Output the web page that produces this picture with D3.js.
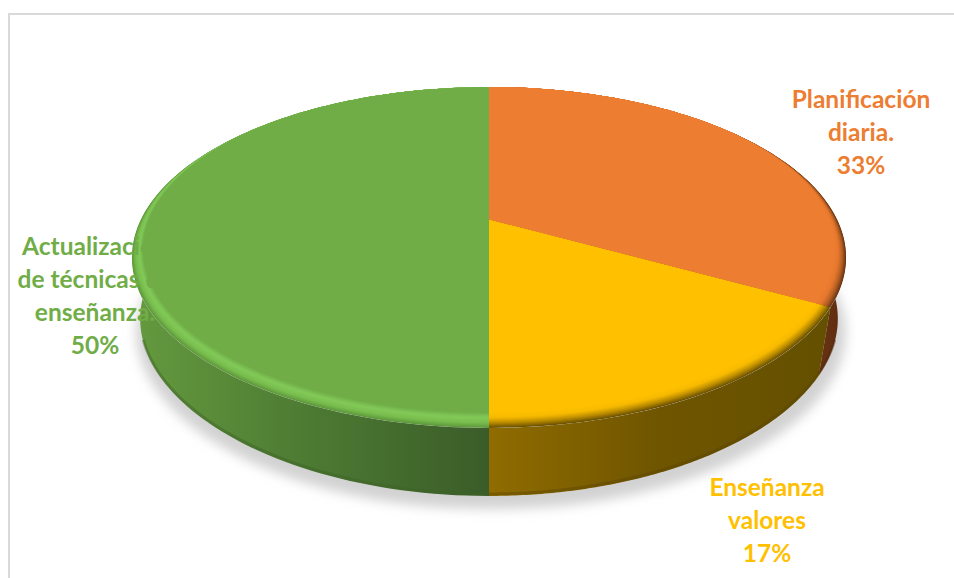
<!DOCTYPE html>
<html>
<head>
<meta charset="utf-8">
<script src="https://cdn.jsdelivr.net/npm/d3@7"></script>
<style>
html,body{margin:0;padding:0;background:#fff;}
svg{display:block;}
text{font-family:Lato,"Open Sans",sans-serif;font-weight:700;font-size:24.5px;text-anchor:middle;}
</style>
</head>
<body>
<svg id="chart" width="954" height="578"></svg>
<script>
// Share of each category, clockwise from twelve o'clock
const categories = ["Planificación diaria.", "Enseñanza valores", "Actualización de técnicas de enseñanza."];
const shares = [33, 17, 50];
const shareLabels = ["33%", "17%", "50%"];
const labelLines = [["Planificación", "diaria."], ["Enseñanza", "valores"], ["Actualización", "de técnicas de", "enseñanza."]];

const faceColors = ["#ed7d31", "#ffc000", "#70ad47"];
// Bevel colour ramps, from the flat face out to the rim
const bevelRamps = [
  ["#ed7d31", "#e5782e", "#b55f24", "#6f3815"],
  ["#ffc000", "#f7ba00", "#b98b00", "#6f5400"],
  ["#70ad47", "#82ca59", "#79bd4e", "#5f9a3c"]
];
// Side wall shading, left to right
const wallRamps = [
  ["#7a3d15", "#653112", "#5e2d10"],
  ["#906c00", "#6f5500", "#645000"],
  ["#659a3f", "#4c7a32", "#3b5c29"]
];

const cx = 489, apexY = 220, spanX = 348.3, spanY = 113.8, tilt = -0.22;
const wallDrop = 68, wallShrink = 0.985, wallTaper = 0.04, bevelWidth = 0.022, bevelLift = 1.6;

const svg = d3.select("#chart");
const defs = svg.append("defs");

// Perspective projection of the unit disc onto the page
const project = (u, v) => {
  const w = 1 + tilt * v;
  return [cx + spanX * u / w, (apexY + spanY * v) / w];
};
const rim = a => project(Math.sin(a), -Math.cos(a));
// The wall's lower edge narrows towards the viewer
const lowerRim = a => {
  const [x, y] = rim(a);
  const shrink = wallShrink - wallTaper * Math.max(0, -Math.cos(a));
  return [cx + (x - cx) * shrink, y + wallDrop];
};
const line = d3.line();
const sample = (a0, a1, f) => d3.range(0, 121).map(i => f(a0 + (a1 - a0) * i / 120));

const arcs = d3.pie().sort(null).value(d => d)(shares);

// Frame of the chart area
svg.append("path").attr("d", "M954,14 H9 V578").attr("fill", "none")
  .attr("stroke", "#d9d9d9").attr("stroke-width", 2);

// Soft shadow under the disc
const blur = defs.append("filter").attr("id", "soft")
  .attr("x", "-10%").attr("y", "-10%").attr("width", "120%").attr("height", "120%");
blur.append("feGaussianBlur").attr("stdDeviation", 6);
svg.append("path")
  .attr("d", line(sample(0, 2 * Math.PI, a => {
    const [x, y] = lowerRim(a);
    return [x + (x < cx ? -4 : 8), y + 13];
  })) + "Z")
  .attr("fill", "#d2d2d2").attr("filter", "url(#soft)");

// Side wall of each slice, shaded across its width
arcs.forEach((d, i) => {
  const pts = sample(d.startAngle, d.endAngle, rim);
  const low = sample(d.startAngle, d.endAngle, lowerRim).reverse();
  const xs = pts.map(p => p[0]).filter((x, k) => Math.cos(d.startAngle + (d.endAngle - d.startAngle) * k / 120) < 0.3);
  const grad = defs.append("linearGradient").attr("id", "wall" + i)
    .attr("gradientUnits", "userSpaceOnUse")
    .attr("x1", d3.min(xs)).attr("x2", d3.max(xs)).attr("y1", 0).attr("y2", 0);
  wallRamps[i].forEach((c, k) => grad.append("stop")
    .attr("offset", k / (wallRamps[i].length - 1)).attr("stop-color", c));
  svg.append("path").attr("d", line(pts.concat(low)) + "Z").attr("fill", `url(#wall${i})`);
});

// Darker lip along the bottom of the wall
arcs.forEach((d, i) => {
  const a0 = Math.max(d.startAngle, Math.PI * 0.6), a1 = Math.min(d.endAngle, 1.4 * Math.PI);
  if (a1 <= a0) return;
  const base = sample(a0, a1, lowerRim);
  svg.append("path").attr("d", line(base.map(p => [p[0], p[1] - 2])))
    .attr("fill", "none").attr("stroke", d3.color(wallRamps[i][1]).darker(0.6))
    .attr("stroke-width", 3).attr("opacity", 0.45);
});

// Top face: nested discs inside each slice's wedge build up the bevel
arcs.forEach((d, i) => {
  const clip = defs.append("clipPath").attr("id", "wedge" + i);
  clip.append("path").attr("d", line([project(0, 0)].concat(sample(d.startAngle, d.endAngle, rim))) + "Z");
  const g = svg.append("g").attr("clip-path", `url(#wedge${i})`);
  const ramp = d3.scaleLinear().domain([0, 0.35, 0.7, 1]).range(bevelRamps[i]);
  d3.range(14).forEach(k => {
    const s = k / 13;                     // 0 at the flat face, 1 at the rim
    const off = (1 - s) * bevelWidth;
    const disc = sample(0, 2 * Math.PI, a =>
      project((1 - off) * Math.sin(a), -bevelLift * off - (1 - off) * Math.cos(a)));
    // Painted rim first, flat face last
    g.insert("path", ":first-child").attr("d", line(disc) + "Z").attr("fill", ramp(s));
  });
});

// Category labels with their percentages
const labelAnchors = [[861, 108], [767, 496], [95, 255]];
arcs.forEach((d, i) => {
  const lines = labelLines[i].concat(shareLabels[i]);
  const t = svg.append("text").attr("fill", faceColors[i]);
  lines.forEach((s, k) => t.append("tspan")
    .attr("x", labelAnchors[i][0]).attr("y", labelAnchors[i][1] + k * 33).text(s));
});
</script>
</body>
</html>
